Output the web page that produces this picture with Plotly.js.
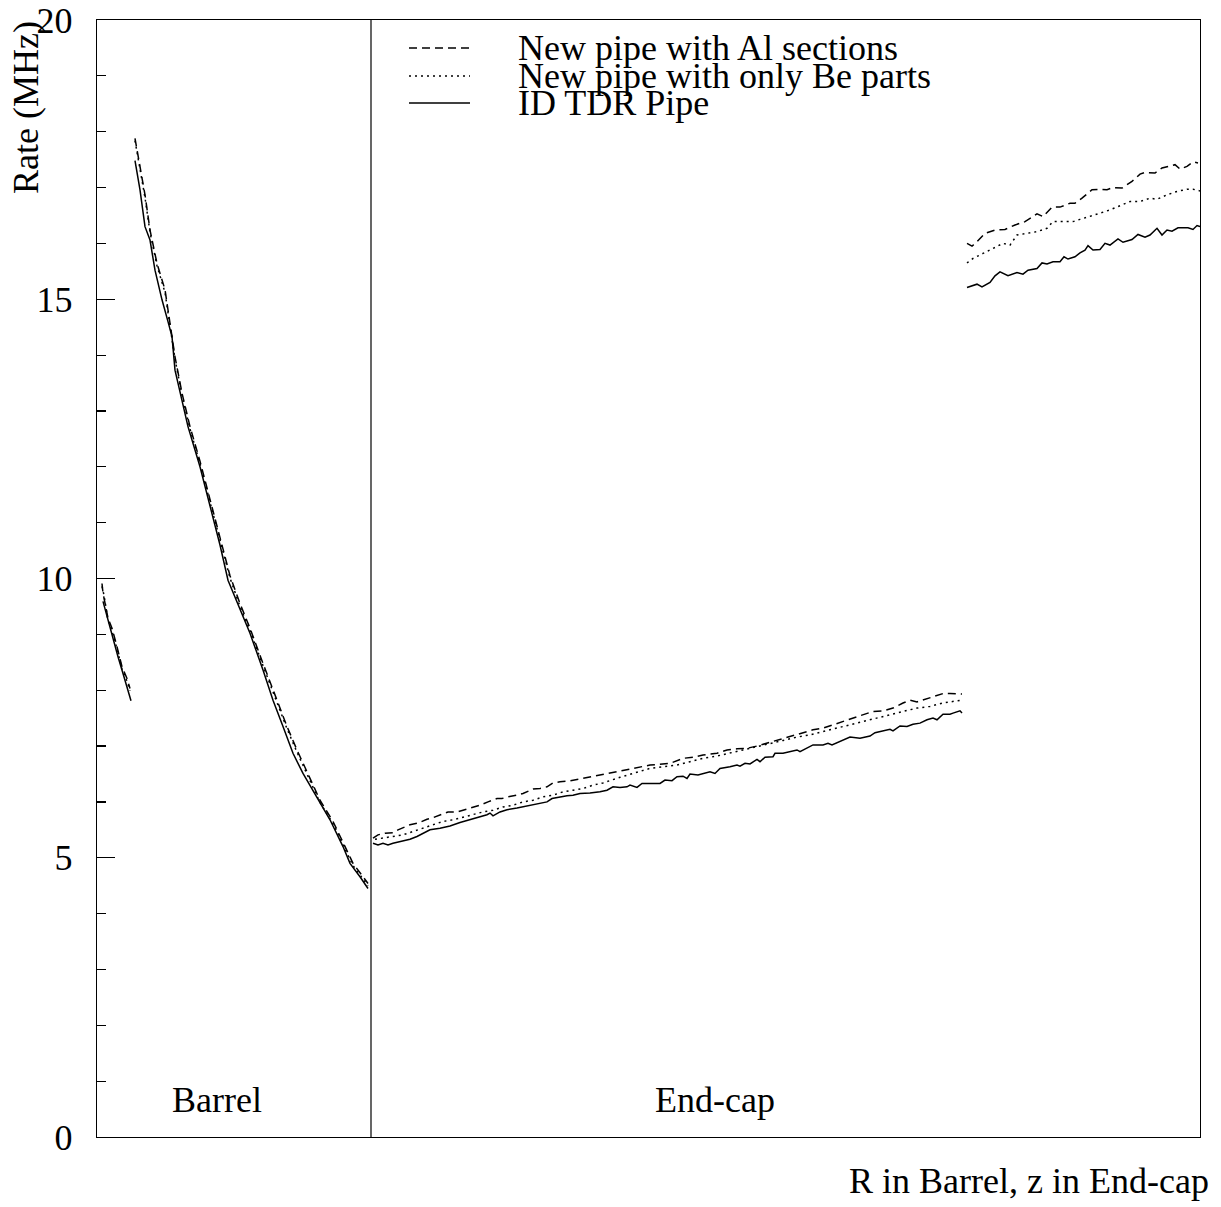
<!DOCTYPE html>
<html>
<head>
<meta charset="utf-8">
<script src="https://cdn.plot.ly/plotly-3.0.1.min.js"></script>
<style>html,body{margin:0;padding:0;background:#fff;}#chart{width:1221px;height:1207px;}</style>
</head>
<body>
<div id="chart"></div>
<script>
// x positions are in arbitrary horizontal units (Barrel: R, End-cap: z), no tick labels on the axis
var seriesNames = ["New pipe with Al sections", "New pipe with only Be parts", "ID TDR Pipe"];
var regionLabels = ["Barrel", "End-cap"];
var regionDivider = 371;
var yTickVals = [0, 5, 10, 15, 20];

// ---- New pipe with Al sections (dashed) ----
var alBarrel1X = [102,103,108,112,117,122,127,130];
var alBarrel1Y = [9.91,9.74,9.29,9.11,8.78,8.42,8.21,8.03];
var alBarrel2X = [135,140,145,150,157,165,170,175,182,190,200,210,220,230,240,250,263,275,287,297,308,320,333,345,353,363,368];
var alBarrel2Y = [17.88,17.37,16.87,16.24,15.64,15.17,14.57,13.97,13.32,12.72,12.10,11.42,10.72,10.05,9.55,9.11,8.48,7.91,7.35,6.93,6.51,6.03,5.65,5.20,4.90,4.66,4.54];
var alEnd1X = [373,378,385,393,398,407,410,418,427,432,440,448,457,463,473,480,488,497,502,508,517,523,533,540,547,553,560,567,580,600,620,635,650,670,683,693,703,717,727,737,747,757,765,773,783,793,803,813,823,833,843,853,863,873,883,893,903,910,917,927,937,943,950,962];
var alEnd1Y = [5.35,5.41,5.44,5.45,5.50,5.56,5.59,5.62,5.69,5.71,5.77,5.82,5.82,5.85,5.91,5.94,6.00,6.06,6.06,6.09,6.12,6.15,6.23,6.24,6.27,6.34,6.36,6.37,6.41,6.48,6.55,6.60,6.66,6.69,6.78,6.80,6.84,6.87,6.93,6.95,6.96,7.00,7.04,7.08,7.14,7.18,7.23,7.29,7.32,7.38,7.45,7.50,7.56,7.62,7.63,7.68,7.77,7.82,7.79,7.85,7.91,7.94,7.94,7.93];
var alEnd2X = [967,972,977,985,995,1005,1015,1025,1037,1043,1052,1060,1070,1075,1082,1092,1100,1107,1113,1122,1132,1140,1145,1155,1162,1170,1175,1180,1187,1193,1198];
var alEnd2Y = [16.00,15.95,16.03,16.18,16.24,16.25,16.33,16.39,16.53,16.48,16.65,16.65,16.72,16.72,16.81,16.96,16.97,16.96,17.00,16.99,17.11,17.24,17.27,17.26,17.35,17.38,17.41,17.33,17.38,17.46,17.44];

// ---- New pipe with only Be parts (dotted) ----
var beBarrel1X = [102,104,108,112,117,122,127,130];
var beBarrel1Y = [9.86,9.70,9.25,9.06,8.74,8.38,8.16,7.99];
var beBarrel2X = [135,140,145,150,157,165,170,175,182,190,200,210,220,230,240,250,263,275,287,297,308,320,333,345,353,363,368];
var beBarrel2Y = [17.84,17.32,16.82,16.20,15.60,15.12,14.53,13.93,13.28,12.68,12.05,11.38,10.68,10.01,9.50,9.07,8.44,7.87,7.31,6.89,6.47,5.99,5.61,5.16,4.86,4.62,4.50];
var beEnd1X = [375,383,393,403,413,423,433,443,453,463,473,483,493,503,513,523,533,543,553,563,573,583,593,603,620,635,650,663,677,690,703,717,730,743,757,770,783,797,810,823,837,850,863,877,890,903,917,930,943,957,962];
var beEnd1Y = [5.33,5.35,5.38,5.41,5.47,5.53,5.59,5.65,5.68,5.73,5.77,5.82,5.85,5.91,5.94,6.00,6.03,6.09,6.12,6.18,6.21,6.24,6.30,6.34,6.44,6.52,6.60,6.63,6.66,6.72,6.78,6.82,6.87,6.93,6.99,7.04,7.10,7.16,7.20,7.26,7.32,7.38,7.44,7.50,7.56,7.62,7.68,7.71,7.77,7.81,7.82];
var beEnd2X = [967,973,983,993,1003,1010,1017,1027,1037,1047,1053,1063,1073,1080,1090,1100,1110,1120,1130,1140,1150,1157,1167,1177,1187,1193,1200];
var beEnd2Y = [15.65,15.73,15.82,15.91,16.00,15.97,16.15,16.18,16.21,16.27,16.39,16.39,16.39,16.43,16.48,16.54,16.60,16.68,16.75,16.75,16.81,16.79,16.87,16.93,16.97,16.97,16.94];

// ---- ID TDR Pipe (solid) ----
var tdrBarrel1X = [103,108,113,118,123,131];
var tdrBarrel1Y = [9.59,9.26,8.90,8.60,8.30,7.81];
var tdrBarrel2X = [135,140,145,150,155,162,168,172,175,180,188,200,210,220,228,240,250,263,273,283,293,303,317,330,343,350,360,368];
var tdrBarrel2Y = [17.48,16.96,16.30,16.06,15.52,14.99,14.60,14.33,13.73,13.32,12.72,12.00,11.30,10.60,9.97,9.45,9.02,8.36,7.82,7.35,6.87,6.51,6.09,5.68,5.20,4.90,4.66,4.45];
var tdrEnd1X = [373,378,383,388,393,403,410,417,423,430,440,450,460,470,480,487,490,493,500,507,517,523,533,540,547,552,560,567,573,580,590,600,607,613,620,627,630,637,642,650,660,665,672,677,683,687,690,698,705,710,715,720,730,737,740,745,750,757,760,765,773,775,783,790,797,800,807,813,823,828,832,840,850,860,870,875,883,890,893,900,907,913,920,927,933,937,943,950,953,960,962];
var tdrEnd1Y = [5.26,5.23,5.26,5.23,5.26,5.30,5.33,5.38,5.44,5.50,5.53,5.57,5.63,5.68,5.73,5.77,5.80,5.75,5.82,5.86,5.89,5.91,5.94,5.97,6.00,6.06,6.09,6.11,6.12,6.15,6.16,6.18,6.21,6.27,6.26,6.27,6.30,6.26,6.33,6.33,6.33,6.39,6.38,6.45,6.46,6.42,6.50,6.48,6.51,6.54,6.51,6.60,6.63,6.66,6.64,6.69,6.68,6.76,6.72,6.80,6.81,6.87,6.87,6.90,6.93,6.90,6.96,7.02,7.02,7.05,7.02,7.08,7.16,7.14,7.18,7.24,7.27,7.30,7.27,7.36,7.35,7.39,7.41,7.47,7.50,7.47,7.57,7.57,7.59,7.63,7.59];
var tdrEnd2X = [967,977,982,990,995,1000,1008,1017,1023,1028,1037,1042,1047,1053,1060,1064,1068,1075,1080,1085,1088,1093,1100,1105,1110,1118,1123,1132,1138,1145,1150,1157,1162,1167,1172,1178,1188,1193,1197,1200];
var tdrEnd2Y = [15.21,15.27,15.22,15.30,15.42,15.49,15.42,15.48,15.45,15.52,15.55,15.65,15.63,15.67,15.67,15.76,15.72,15.76,15.83,15.88,15.96,15.88,15.89,16.00,15.97,16.08,16.02,16.07,16.16,16.11,16.15,16.27,16.15,16.24,16.22,16.28,16.28,16.25,16.32,16.30];

function joinSegments(segs) {
  var out = [];
  segs.forEach(function (s, i) { if (i > 0) out.push(null); out = out.concat(s); });
  return out;
}

var FONT = "'Liberation Serif', 'Times New Roman', Times, serif";
var DASH = "8px,5px";
var DOT = "2px,4px";

var traces = [
  {x: joinSegments([alBarrel1X, alBarrel2X, alEnd1X, alEnd2X]),
   y: joinSegments([alBarrel1Y, alBarrel2Y, alEnd1Y, alEnd2Y]),
   name: seriesNames[0], mode: "lines", connectgaps: false,
   line: {color: "black", width: 1.5, dash: DASH}},
  {x: joinSegments([beBarrel1X, beBarrel2X, beEnd1X, beEnd2X]),
   y: joinSegments([beBarrel1Y, beBarrel2Y, beEnd1Y, beEnd2Y]),
   name: seriesNames[1], mode: "lines", connectgaps: false,
   line: {color: "black", width: 1.5, dash: DOT}},
  {x: joinSegments([tdrBarrel1X, tdrBarrel2X, tdrEnd1X, tdrEnd2X]),
   y: joinSegments([tdrBarrel1Y, tdrBarrel2Y, tdrEnd1Y, tdrEnd2Y]),
   name: seriesNames[2], mode: "lines", connectgaps: false,
   line: {color: "black", width: 1.5}}
];

// plot area in pixels: x 97..1200, y 20..1137
function px2paperX(p) { return (p - 97) / 1103; }
function px2paperY(p) { return (1137 - p) / 1117; }

var legendRows = [48, 76, 103];
var legendTextRows = [48, 76, 103];
var legendDash = [DASH, DOT, "solid"];

var shapes = [
  {type: "line", xref: "x", yref: "paper", x0: regionDivider, x1: regionDivider, y0: 0, y1: 1,
   line: {color: "black", width: 1.2}}
];
var annotations = [];
for (var i = 0; i < 3; i++) {
  shapes.push({type: "line", xref: "paper", yref: "paper",
    x0: px2paperX(409), x1: px2paperX(470), y0: px2paperY(legendRows[i]), y1: px2paperY(legendRows[i]),
    line: {color: "black", width: 1.5, dash: legendDash[i]}});
  annotations.push({xref: "paper", yref: "paper", x: px2paperX(516), y: px2paperY(legendTextRows[i]),
    xanchor: "left", yanchor: "middle", showarrow: false, text: seriesNames[i],
    font: {family: FONT, size: 36, color: "black"}});
}
annotations.push({xref: "x", yref: "paper", x: 217, y: px2paperY(1100), xanchor: "center", yanchor: "middle",
  showarrow: false, text: regionLabels[0], font: {family: FONT, size: 36, color: "black"}});
annotations.push({xref: "x", yref: "paper", x: 715, y: px2paperY(1100), xanchor: "center", yanchor: "middle",
  showarrow: false, text: regionLabels[1], font: {family: FONT, size: 36, color: "black"}});
annotations.push({xref: "paper", yref: "paper", x: px2paperX(26), y: px2paperY(108), xanchor: "center", yanchor: "middle",
  textangle: -90, showarrow: false, text: "Rate (MHz)", font: {family: FONT, size: 36, color: "black"}});
annotations.push({xref: "paper", yref: "paper", x: px2paperX(1211), y: px2paperY(1181), xanchor: "right", yanchor: "middle",
  showarrow: false, text: "R in Barrel, z in End-cap", font: {family: FONT, size: 36, color: "black"}});

var layout = {
  width: 1221, height: 1207,
  margin: {l: 97, r: 21, t: 20, b: 70, pad: 0},
  paper_bgcolor: "white", plot_bgcolor: "white",
  showlegend: false,
  xaxis: {range: [97, 1200], showline: true, mirror: true, linecolor: "black", linewidth: 1.2,
    showticklabels: false, ticks: "", showgrid: false, zeroline: false},
  yaxis: {range: [0, 20], tickmode: "array", tickvals: yTickVals, ticktext: yTickVals.map(String),
    ticks: "inside", ticklen: 18, tickwidth: 1.2, tickcolor: "black",
    minor: {dtick: 1, tick0: 0, ticks: "inside", ticklen: 9, tickwidth: 1.2, tickcolor: "black", showgrid: false},
    showline: true, mirror: true, linecolor: "black", linewidth: 1.2,
    showgrid: false, zeroline: false, ticklabelstandoff: 16,
    tickfont: {family: FONT, size: 36, color: "black"}},
  shapes: shapes,
  annotations: annotations
};

Plotly.newPlot("chart", traces, layout, {displayModeBar: false, staticPlot: true});
</script>
</body>
</html>
